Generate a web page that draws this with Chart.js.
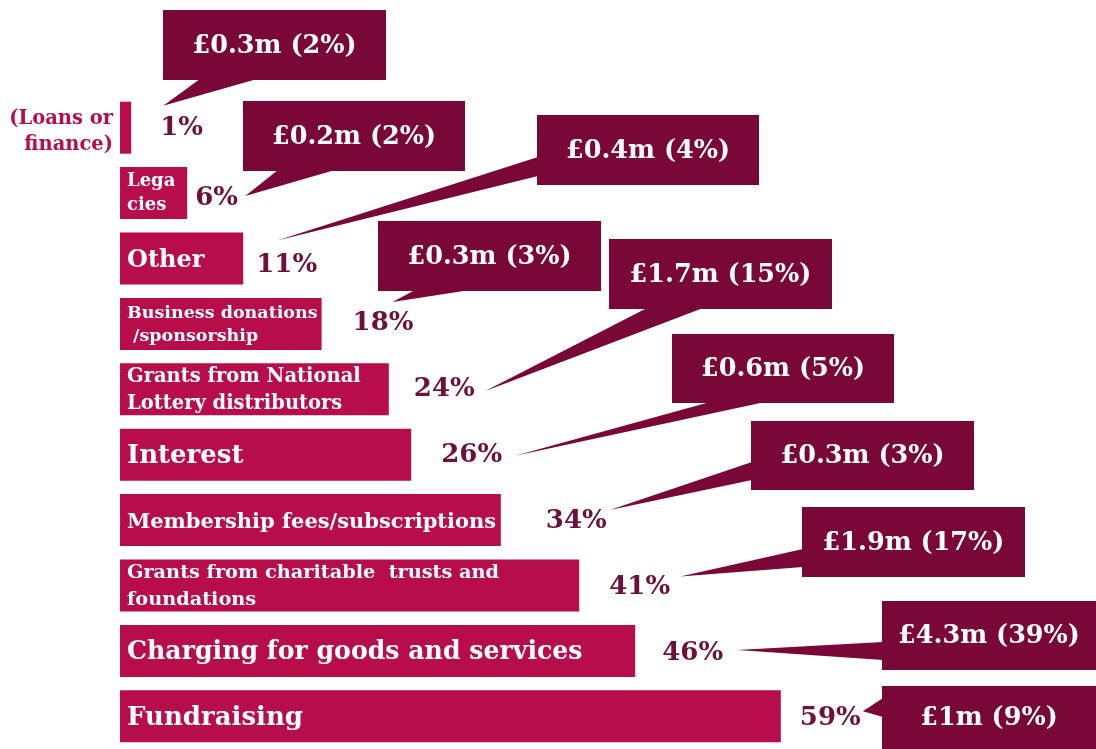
<!DOCTYPE html>
<html>
<head>
<meta charset="utf-8">
<script src="https://cdn.jsdelivr.net/npm/chart.js@4.4.1/dist/chart.umd.min.js"></script>
<style>
  html, body { margin: 0; padding: 0; background: #fff; }
  #wrap { width: 1096px; height: 749px; }
</style>
</head>
<body>
<div id="wrap"><canvas id="chart"></canvas></div>
<script>
// Sources of income, smallest share first (drawn top to bottom)
var categories = [
  ["(Loans or", "finance)"],
  ["Lega", "cies"],
  "Other",
  ["Business donations", " /sponsorship"],
  ["Grants from National", "Lottery distributors"],
  "Interest",
  "Membership fees/subscriptions",
  ["Grants from charitable  trusts and", "foundations"],
  "Charging for goods and services",
  "Fundraising"
];

// % of organisations using each source (bar length)
var share_pct = [1, 6, 11, 18, 24, 26, 34, 41, 46, 59];

// income from each source, £ millions, and its share of total income
var amount_m = [0.3, 0.2, 0.4, 0.3, 1.7, 0.6, 0.3, 1.9, 4.3, 1];
var income_pct = [2, 2, 4, 3, 15, 5, 3, 17, 39, 9];

var callout_texts = amount_m.map(function (m, i) {
  return "£" + m + "m (" + income_pct[i] + "%)";
});

// ---- layout only (no data below) ----
var BAR = "#b70d4b";
var DARK = "#7a0836";
var PCT = "#6d1138";
var FONT = "'DejaVu Serif', serif";

var label_size = [19.5, 18, 24, 17.5, 19.5, 26, 21, 19.3, 25.2, 26];
var label_shift = [4, 0, 2, 1, 1, 2, 2, 1, 2, 2];
// nudges for the "xx%" text, from bar end / bar middle
var pct_nudge = [[29, 1], [8, 5], [13, 7], [31, -1], [25, 0], [30, 1], [45, 1], [30, 2], [27, 2], [19, 2]];
// where each speech-bubble tail points, from bar end / bar middle
var tail_nudge = [[32, -22], [58, 3], [34, -18], [71, -22], [96, 2], [104, 1], [109, -10], [101, -9], [102, -1], [82, -5]];
// callout boxes: x, y, w, h and the two points where the tail leaves the box
var boxes = [
  { x: 163, y: 10, w: 223, h: 70, base: [[200, 79], [257, 79]] },
  { x: 243, y: 101, w: 222, h: 70, base: [[278, 170], [335, 170]] },
  { x: 537, y: 115, w: 222, h: 70, base: [[538, 157], [538, 176]] },
  { x: 378, y: 221, w: 223, h: 70, base: [[415, 290], [470, 290]] },
  { x: 609, y: 239, w: 223, h: 70, base: [[647, 308], [703, 308]] },
  { x: 672, y: 334, w: 222, h: 69, base: [[710, 402], [765, 402]] },
  { x: 751, y: 421, w: 223, h: 69, base: [[752, 462], [752, 480]] },
  { x: 802, y: 507, w: 223, h: 70, base: [[803, 549], [803, 567]] },
  { x: 882, y: 601, w: 214, h: 69, base: [[883, 642], [883, 660]] },
  { x: 882, y: 686, w: 214, h: 63, base: [[883, 698], [883, 717]] }
];

var barText = {
  id: "barText",
  afterDatasetsDraw: function (chart) {
    var ctx = chart.ctx;
    var bars = chart.getDatasetMeta(0).data;
    ctx.save();
    ctx.textBaseline = "middle";

    bars.forEach(function (bar, i) {
      var lines = [].concat(categories[i]);
      var size = label_size[i];
      var lh = size * 1.35;
      var y0 = bar.y + label_shift[i] - (lines.length - 1) * lh / 2;
      ctx.font = "bold " + size + "px " + FONT;

      if (i === 0) {
        // bar too thin, label sits to the left
        ctx.fillStyle = BAR;
        ctx.textAlign = "right";
        lines.forEach(function (t, k) { ctx.fillText(t, bar.base - 7, y0 + k * lh); });
      } else {
        ctx.fillStyle = "#ffffff";
        ctx.textAlign = "left";
        var room = bar.x - bar.base - 8;
        lines.forEach(function (t, k) { ctx.fillText(t, bar.base + 7, y0 + k * lh, room); });
      }

      // percentage of organisations
      ctx.font = "bold 26px " + FONT;
      ctx.fillStyle = PCT;
      ctx.textAlign = "left";
      ctx.fillText(share_pct[i] + "%", bar.x + pct_nudge[i][0], bar.y + pct_nudge[i][1]);
    });

    // speech-bubble callouts with the money amounts
    bars.forEach(function (bar, i) {
      var b = boxes[i];
      var tip = [bar.x + tail_nudge[i][0], bar.y + tail_nudge[i][1]];
      ctx.fillStyle = DARK;
      ctx.beginPath();
      ctx.moveTo(b.base[0][0], b.base[0][1]);
      ctx.lineTo(tip[0], tip[1]);
      ctx.lineTo(b.base[1][0], b.base[1][1]);
      ctx.closePath();
      ctx.fill();
      ctx.fillRect(b.x, b.y, b.w, b.h);

      ctx.fillStyle = "#ffffff";
      ctx.font = "bold 25.5px " + FONT;
      ctx.textAlign = "center";
      ctx.fillText(callout_texts[i], b.x + b.w / 2, b.y + b.h / 2 + 1);
    });
    ctx.restore();
  }
};

new Chart(document.getElementById("chart"), {
  type: "bar",
  data: {
    labels: categories,
    datasets: [{
      label: "Organisations using source",
      data: share_pct,
      backgroundColor: BAR,
      borderWidth: 0,
      barPercentage: 0.795,
      categoryPercentage: 1
    }]
  },
  options: {
    indexAxis: "y",
    responsive: true,
    maintainAspectRatio: false,
    animation: false,
    layout: { padding: { top: 95, left: 120, right: 0, bottom: 0 } },
    scales: {
      x: { type: "linear", min: 0, max: 87.14, display: false },
      y: { type: "category", display: false }
    },
    plugins: {
      legend: { display: false },
      tooltip: { enabled: false }
    }
  },
  plugins: [barText]
});
</script>
</body>
</html>
